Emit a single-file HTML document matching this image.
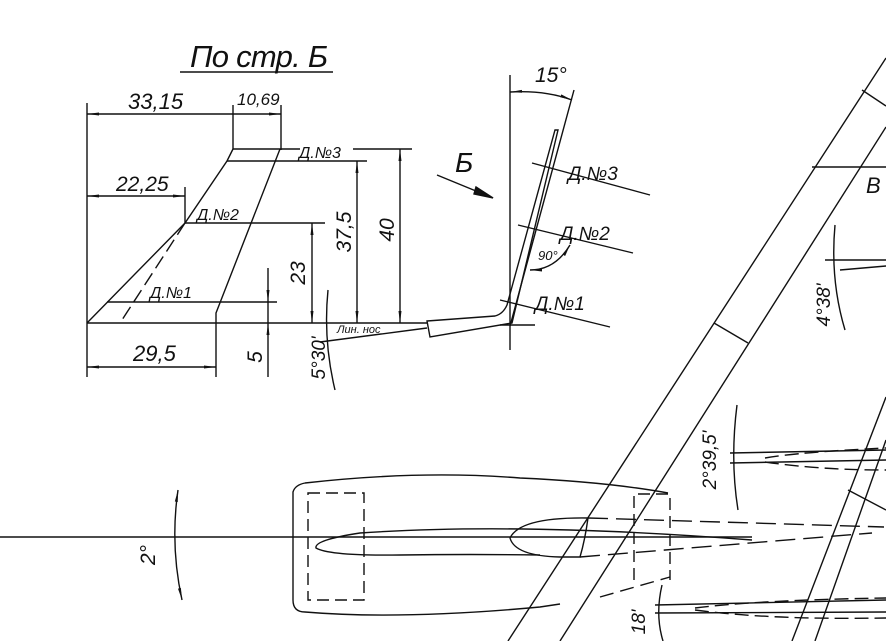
<!DOCTYPE html>
<html><head><meta charset="utf-8"><style>
html,body{margin:0;padding:0;background:#fff;}
svg{display:block;}
text{font-family:"Liberation Sans",sans-serif;font-style:italic;fill:#111;}
</style></head><body>
<svg width="886" height="641" viewBox="0 0 886 641" xmlns="http://www.w3.org/2000/svg" stroke="#111" fill="none" stroke-width="1.4">
<defs>
<marker id="a" viewBox="0 0 12 6" refX="12" refY="3" markerWidth="12" markerHeight="6" orient="auto-start-reverse" markerUnits="userSpaceOnUse"><path d="M0,1.5 L12,3 L0,4.5 Z" fill="#111" stroke="none"/></marker>
</defs>
<text x="190" y="67" font-size="31" stroke="none" textLength="138">По стр. Б</text>
<line x1="180" y1="72" x2="333" y2="72"/>
<line x1="87" y1="103" x2="87" y2="377"/>
<line x1="87" y1="114" x2="281" y2="114" marker-start="url(#a)" marker-end="url(#a)"/>
<line x1="233" y1="105" x2="233" y2="149"/>
<line x1="281" y1="105" x2="281" y2="150"/>
<text x="128" y="109" font-size="22" stroke="none">33,15</text>
<text x="237" y="105" font-size="17" stroke="none">10,69</text>
<line x1="233" y1="149" x2="300" y2="149"/>
<line x1="353" y1="149" x2="412" y2="149"/>
<text x="299" y="158" font-size="16" stroke="none">Д.№3</text>
<line x1="227" y1="161" x2="367" y2="161"/>
<path d="M87,323 L185,223 L227,161 L233,149"/>
<path d="M280,149 L216,313 L216,323"/>
<path d="M185,223 L120,323" stroke-dasharray="14,6"/>
<line x1="87" y1="196" x2="185" y2="196" marker-start="url(#a)" marker-end="url(#a)"/>
<line x1="185" y1="187" x2="185" y2="223"/>
<text x="116" y="191" font-size="21" stroke="none">22,25</text>
<line x1="185" y1="223" x2="325" y2="223"/>
<text x="197" y="220" font-size="16" stroke="none">Д.№2</text>
<line x1="107" y1="302" x2="277" y2="302"/>
<text x="150" y="298" font-size="16" stroke="none">Д.№1</text>
<line x1="87" y1="323" x2="427" y2="323"/>
<line x1="87" y1="367" x2="216" y2="367" marker-start="url(#a)" marker-end="url(#a)"/>
<line x1="216" y1="323" x2="216" y2="377"/>
<text x="133" y="361" font-size="22" stroke="none">29,5</text>
<line x1="268" y1="268" x2="268" y2="302" marker-end="url(#a)"/>
<line x1="268" y1="377" x2="268" y2="323" marker-end="url(#a)"/>
<line x1="268" y1="302" x2="268" y2="323"/>
<line x1="312" y1="223" x2="312" y2="323" marker-start="url(#a)" marker-end="url(#a)"/>
<line x1="357" y1="161" x2="357" y2="323" marker-start="url(#a)" marker-end="url(#a)"/>
<line x1="400" y1="149" x2="400" y2="323" marker-start="url(#a)" marker-end="url(#a)"/>
<g stroke="none">
<text transform="translate(305,273) rotate(-90)" font-size="21" text-anchor="middle">23</text>
<text transform="translate(351,232) rotate(-90)" font-size="21" text-anchor="middle">37,5</text>
<text transform="translate(394,230) rotate(-90)" font-size="21" text-anchor="middle">40</text>
<text transform="translate(262,357) rotate(-90)" font-size="21" text-anchor="middle">5</text>
<text transform="translate(325,358) rotate(-90)" font-size="19" text-anchor="middle">5°30'</text>
<text x="337" y="333" font-size="11">Лин. нос</text>
</g>
<line x1="320" y1="342" x2="427" y2="328"/>
<path d="M328,290 Q323,340 335,390"/>
<path d="M427,321 L495,316 Q503,314 507,305 L555,130 L558,130 L512,323 L430,337 Z"/>
<text x="455" y="172" font-size="28" stroke="none" font-style="normal">Б</text>
<line x1="437" y1="175" x2="493" y2="198"/>
<path d="M476,187 L493,198 L474,194 Z" fill="#111"/>
<line x1="510" y1="75" x2="510" y2="350"/>
<line x1="574" y1="90" x2="510" y2="326"/>
<path d="M510,92 Q545,90 572,100" marker-start="url(#a)" marker-end="url(#a)"/>
<text x="535" y="82" font-size="21" stroke="none">15°</text>
<line x1="532" y1="163" x2="650" y2="195"/>
<text x="568" y="180" font-size="19" stroke="none">Д.№3</text>
<line x1="518" y1="225" x2="633" y2="253"/>
<text x="560" y="240" font-size="19" stroke="none">Д.№2</text>
<path d="M530,270 Q555,270 570,245" marker-start="url(#a)" marker-end="url(#a)"/>
<text x="538" y="260" font-size="13" stroke="none">90°</text>
<line x1="500" y1="300" x2="610" y2="327"/>
<text x="535" y="310" font-size="19" stroke="none">Д.№1</text>
<line x1="500" y1="325" x2="535" y2="325"/>
<line x1="886" y1="58" x2="508" y2="641"/>
<line x1="886" y1="127" x2="560" y2="641"/>
<line x1="714" y1="323" x2="748" y2="343"/>
<line x1="862" y1="90" x2="886" y2="106"/>
<line x1="812" y1="167" x2="886" y2="167"/>
<text x="866" y="193" font-size="22" stroke="none">B</text>
<line x1="825" y1="260" x2="886" y2="260"/>
<line x1="840" y1="270" x2="886" y2="266"/>
<path d="M835,225 Q830,280 845,330"/>
<text transform="translate(830,305) rotate(-90)" font-size="19" stroke="none" text-anchor="middle">4°38'</text>
<path d="M305,483 Q295,485 293,492 L293,600 Q293,612 305,612 Q400,620 540,607 L560,604"/>
<path d="M305,483 Q420,470 520,478 Q608,482 668,493"/>
<path d="M600,597 L670,577" stroke-dasharray="14,7"/>
<rect x="308" y="493" width="56" height="107" stroke-dasharray="12,6"/>
<path d="M634,580 L634,494 L670,494 L670,580" stroke-dasharray="12,6"/>
<line x1="0" y1="537" x2="752" y2="537"/>
<path d="M752,540 Q520,522 360,533 Q314,540 316,548 Q330,556 400,555 Q470,554 540,555"/>
<path d="M588,518 Q520,517 510,538 Q515,556 560,557 L580,557 Q585,540 588,518"/>
<path d="M588,518 L884,527" stroke-dasharray="20,8"/>
<path d="M580,557 L872,533" stroke-dasharray="20,8"/>
<path d="M178,490 Q170,545 182,600" marker-start="url(#a)" marker-end="url(#a)"/>
<text transform="translate(155,555) rotate(-90)" font-size="21" stroke="none" text-anchor="middle">2°</text>
<path d="M737,405 Q730,460 738,510"/>
<text transform="translate(716,460) rotate(-90)" font-size="19" stroke="none" text-anchor="middle">2°39,5'</text>
<line x1="730" y1="453" x2="886" y2="450"/>
<line x1="730" y1="463" x2="886" y2="460"/>
<path d="M765,458 Q800,452 886,448" stroke-dasharray="14,6"/>
<path d="M765,462 Q820,470 886,470" stroke-dasharray="14,6"/>
<line x1="655" y1="605" x2="886" y2="600"/>
<line x1="655" y1="613" x2="886" y2="612"/>
<path d="M695,608 Q760,600 886,598" stroke-dasharray="14,6"/>
<path d="M695,610 Q770,620 886,618" stroke-dasharray="14,6"/>
<path d="M662,585 Q655,615 663,641"/>
<text transform="translate(645,622) rotate(-90)" font-size="19" stroke="none" text-anchor="middle">18'</text>
<line x1="886" y1="397" x2="792" y2="641"/>
<line x1="886" y1="440" x2="815" y2="641"/>
<line x1="848" y1="490" x2="886" y2="510"/>
</svg>
</body></html>
